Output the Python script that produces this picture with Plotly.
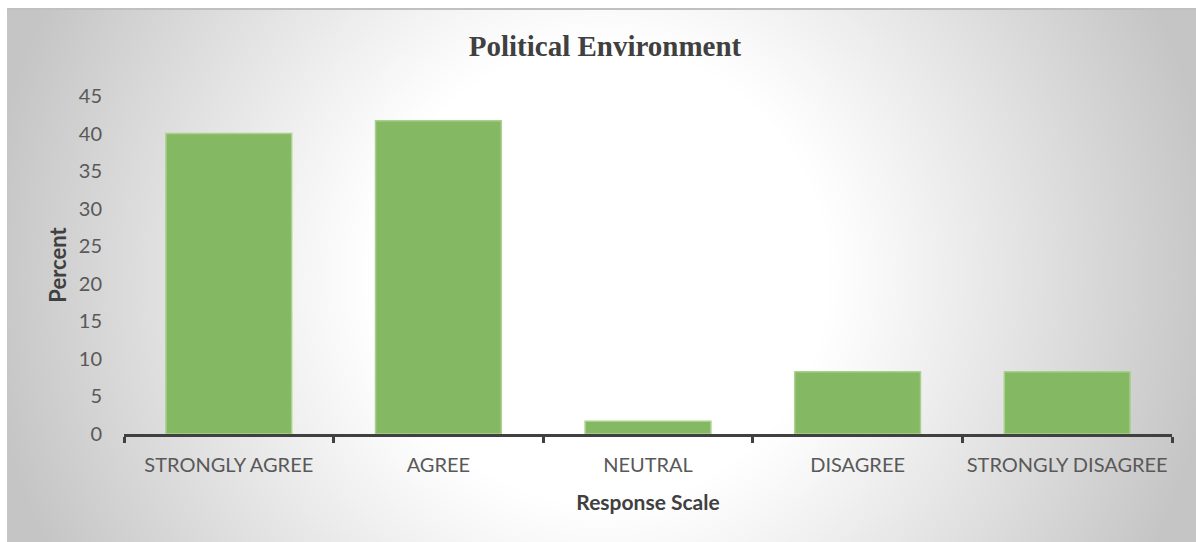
import base64
import struct
import zlib

import numpy as np
import plotly.graph_objects as go

# ---------------- data ----------------
categories = ["STRONGLY AGREE", "AGREE", "NEUTRAL", "DISAGREE", "STRONGLY DISAGREE"]
percent = [40.0, 41.7, 1.7, 8.3, 8.3]
y_ticks = [0, 5, 10, 15, 20, 25, 30, 35, 40, 45]

# ---------------- layout geometry ----------------
FIG_W, FIG_H = 1196, 542
M_L, M_R, M_T, M_B = 124, 24, 96, 108
PLOT_W = FIG_W - M_L - M_R
PLOT_H = FIG_H - M_T - M_B


# ---------------- radial gradient background as PNG ----------------
def make_png(arr):
    h, w, _ = arr.shape
    raw = b"".join(b"\x00" + arr[i].tobytes() for i in range(h))

    def chunk(tag, data):
        c = struct.pack(">I", len(data)) + tag + data
        return c + struct.pack(">I", zlib.crc32(tag + data) & 0xFFFFFFFF)

    png = b"\x89PNG\r\n\x1a\n"
    png += chunk(b"IHDR", struct.pack(">IIBBBBB", w, h, 8, 2, 0, 0, 0))
    png += chunk(b"IDAT", zlib.compress(raw, 9))
    png += chunk(b"IEND", b"")
    return "data:image/png;base64," + base64.b64encode(png).decode()


BG_X0, BG_Y0 = 7, 8
BW, BH = FIG_W - BG_X0, FIG_H - BG_Y0
yy, xx = np.mgrid[0:BH, 0:BW].astype(float)
cx, cy = 600 - BG_X0, 275 - BG_Y0
r = np.sqrt((xx - cx) ** 2 + (yy - cy) ** 2)
t = np.clip((r - 230) / (620 - 230), 0, 1)
shade = 255 - 58 * t ** 1.05
shade[0:2, :] = 192
shade[:, 0:1] = np.minimum(shade[:, 0:1], 198)
img = np.clip(shade, 0, 255).astype(np.uint8)
rgb = np.stack([img, img, img], axis=-1)
bg_uri = make_png(rgb)

fig = go.Figure()
fig.add_trace(
    go.Bar(
        x=categories,
        y=percent,
        marker=dict(color="#84B862", line=dict(color="#A9D18E", width=1.5)),
        hoverinfo="x+y",
    )
)

fig.add_layout_image(
    dict(
        source=bg_uri,
        xref="paper",
        yref="paper",
        x=(BG_X0 - M_L) / PLOT_W,
        y=(FIG_H - M_B - BG_Y0) / PLOT_H,
        sizex=BW / PLOT_W,
        sizey=BH / PLOT_H,
        xanchor="left",
        yanchor="top",
        sizing="stretch",
        layer="below",
    )
)

fig.update_layout(
    width=FIG_W,
    height=FIG_H,
    margin=dict(l=M_L, r=M_R, t=M_T, b=M_B, autoexpand=False),
    paper_bgcolor="white",
    plot_bgcolor="rgba(0,0,0,0)",
    bargap=0.4,
    showlegend=False,
    title=dict(
        text="Political Environment",
        x=605 / FIG_W,
        xanchor="center",
        y=1 - 46 / FIG_H,
        yanchor="middle",
        font=dict(family="Liberation Serif", size=29, color="#404040", weight="bold"),
    ),
    xaxis=dict(
        showline=True,
        linecolor="#404040",
        linewidth=3,
        ticks="outside",
        tickson="boundaries",
        ticklen=6,
        tickwidth=3,
        tickcolor="#404040",
        tickangle=0,
        automargin=False,
        ticklabelstandoff=11,
        tickfont=dict(family="Lato", size=20, color="#595959"),
        title=dict(
            text="Response Scale",
            font=dict(family="Lato", size=21, color="#404040", weight="bold"),
            standoff=21,
        ),
        showgrid=False,
        zeroline=False,
    ),
    yaxis=dict(
        range=[0, 45],
        tickvals=y_ticks,
        showgrid=False,
        showline=False,
        zeroline=False,
        ticks="",
        automargin=False,
        ticklabelstandoff=21,
        tickfont=dict(family="Lato", size=20, color="#595959"),
        title=dict(
            text="Percent",
            font=dict(family="Lato", size=22, color="#404040", weight="bold"),
            standoff=6,
        ),
    ),
)

fig.write_html("out.html")
